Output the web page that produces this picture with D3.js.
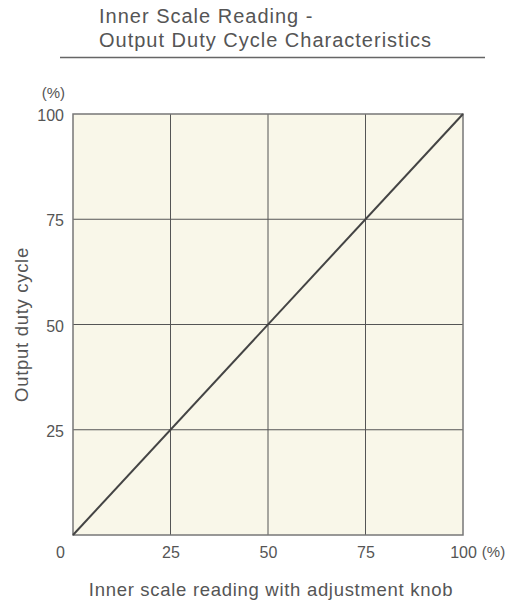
<!DOCTYPE html>
<html>
<head>
<meta charset="utf-8">
<script src="https://cdn.jsdelivr.net/npm/d3@7"></script>
<style>
  body { margin: 0; background: #fff; }
  text { font-family: "Liberation Sans", Arial, sans-serif; fill: #555; }
</style>
</head>
<body>
<svg class="chart"></svg>
<script>
// données
let titre = ["Inner Scale Reading -", "Output Duty Cycle Characteristics"];
let ticksX = [0, 25, 50, 75, 100];
let ticksY = [25, 50, 75, 100];
let reglageX = [0, 100];
let sortieY = [0, 100];

let w = 515, h = 603;
let margin = {top: 114, right: 52, bottom: 68, left: 73};
let width = w - margin.left - margin.right,
    height = h - margin.top - margin.bottom;

let svg = d3.select(".chart").attr("width", w).attr("height", h);

// titre
svg.append("text")
  .attr("x", 99).attr("y", 23)
  .style("font-size", "20px")
  .style("letter-spacing", "1px")
  .selectAll("tspan").data(titre).enter().append("tspan")
    .attr("x", 99)
    .attr("dy", function(d, i) { return i ? 24 : 0; })
    .text(function(d) { return d; });

svg.append("line")
  .attr("x1", 60).attr("x2", 485).attr("y1", 57.5).attr("y2", 57.5)
  .attr("stroke", "#666").attr("stroke-width", 1.5);

let x = d3.scaleLinear().domain([0, 100]).range([0, width]);
let y = d3.scaleLinear().domain([0, 100]).range([height, 0]);

let g = svg.append("g")
  .attr("transform", "translate(" + margin.left + "," + margin.top + ")");

// fond
g.append("rect")
  .attr("width", width).attr("height", height)
  .attr("fill", "#f9f7e9");

// grille
g.selectAll(".gx").data(ticksX.slice(1, -1)).enter().append("line")
  .attr("x1", function(d) { return x(d); }).attr("x2", function(d) { return x(d); })
  .attr("y1", 0).attr("y2", height)
  .attr("stroke", "#555").attr("stroke-width", 1);

g.selectAll(".gy").data(ticksY.slice(0, -1)).enter().append("line")
  .attr("y1", function(d) { return y(d); }).attr("y2", function(d) { return y(d); })
  .attr("x1", 0).attr("x2", width)
  .attr("stroke", "#555").attr("stroke-width", 1);

// cadre
g.append("rect")
  .attr("width", width).attr("height", height)
  .attr("fill", "none").attr("stroke", "#777").attr("stroke-width", 1.5);

// courbe
let ligne = d3.line()
  .x(function(d) { return x(d[0]); })
  .y(function(d) { return y(d[1]); });

g.append("path")
  .datum(d3.zip(reglageX, sortieY))
  .attr("d", ligne)
  .attr("fill", "none").attr("stroke", "#444").attr("stroke-width", 2);

// axes (texte seulement)
let axeX = g.append("g").attr("transform", "translate(0," + height + ")")
  .call(d3.axisBottom(x).tickValues(ticksX).tickSize(0).tickPadding(0));
axeX.select(".domain").remove();
axeX.selectAll("text")
  .attr("y", 17).attr("dy", "0.36em")
  .style("font-size", "16px").attr("fill", "#555")
  .attr("transform", function(d) { return d === 0 ? "translate(-13,0)" : null; });
axeX.selectAll(".tick").filter(function(d) { return d === 100; })
  .append("text")
    .attr("x", 30).attr("y", 17).attr("dy", "0.36em")
    .attr("text-anchor", "middle")
    .style("font-size", "15px").attr("fill", "#555")
    .text("(%)");

let axeY = g.append("g")
  .call(d3.axisLeft(y).tickValues(ticksY).tickSize(0).tickPadding(9));
axeY.select(".domain").remove();
axeY.selectAll("text").attr("dy", "0.42em").style("font-size", "16px").attr("fill", "#555");

g.append("text")
  .attr("x", -8).attr("y", -16)
  .attr("text-anchor", "end")
  .style("font-size", "15px")
  .text("(%)");

// titres des axes
svg.append("text")
  .attr("x", 271).attr("y", 596)
  .attr("text-anchor", "middle")
  .style("font-size", "18.5px")
  .style("letter-spacing", "0.7px")
  .text("Inner scale reading with adjustment knob");

svg.append("text")
  .attr("transform", "translate(28," + (margin.top + height / 2) + ") rotate(-90)")
  .attr("text-anchor", "middle")
  .style("font-size", "18.5px")
  .style("letter-spacing", "0.7px")
  .text("Output duty cycle");
</script>
</body>
</html>
